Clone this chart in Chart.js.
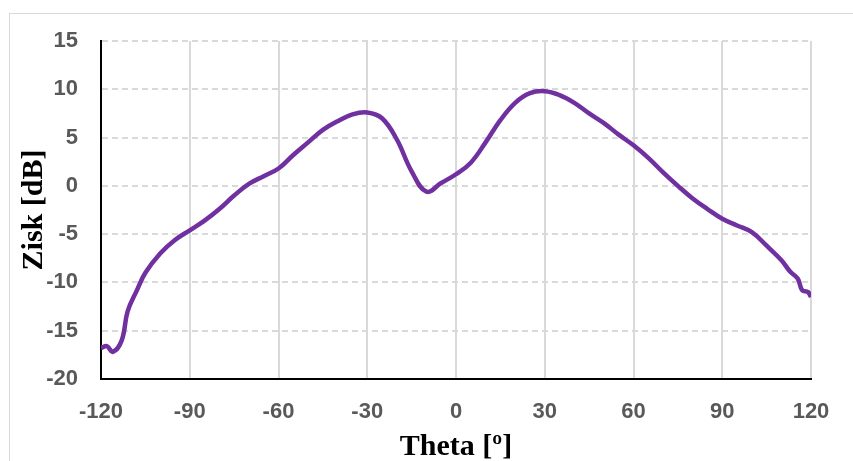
<!DOCTYPE html>
<html>
<head>
<meta charset="utf-8">
<script src="https://cdn.jsdelivr.net/npm/chart.js@4/dist/chart.umd.min.js"></script>
<style>
  html, body { margin: 0; padding: 0; background: #fff; overflow: hidden; }
  #frame { position: absolute; left: 9px; top: 13px; width: 900px; height: 500px;
           border: 1.5px solid #d9d9d9; box-sizing: border-box; }
  #wrap { position: absolute; left: 0; top: 0; width: 853px; height: 465px; }
</style>
</head>
<body>
<div id="frame"></div>
<div id="wrap"><canvas id="chart" width="853" height="465"></canvas></div>
<script>
// Winkel (Grad) und Gewinn (dB)
const theta = [-120, -118, -116, -113, -111, -108, -105, -100, -95, -90, -85, -80, -75, -70, -65, -60,
  -55, -50, -45, -40, -35, -30, -25, -20, -15, -10, -5, 0, 5, 10, 15, 20, 25, 30, 35, 40, 45,
  50, 55, 60, 65, 70, 75, 80, 85, 90, 95, 100, 105, 110, 113, 115.5, 117, 119, 120];
const gain = [-16.8, -16.6, -17.2, -16.0, -13.0, -10.9, -9.0, -7.0, -5.6, -4.6, -3.6, -2.4, -1.0, 0.2, 1.0, 1.8,
  3.2, 4.5, 5.8, 6.7, 7.4, 7.6, 7.0, 4.8, 1.5, -0.6, 0.3, 1.2, 2.4, 4.5, 6.8, 8.6, 9.6, 9.8, 9.4, 8.6, 7.5,
  6.5, 5.3, 4.2, 2.9, 1.4, 0.0, -1.3, -2.4, -3.4, -4.1, -4.8, -6.2, -7.7, -8.9, -9.6, -10.8, -11.0, -11.5];
const xTicks = [-120, -90, -60, -30, 0, 30, 60, 90, 120];
const yTicks = [-20, -15, -10, -5, 0, 5, 10, 15];

const tickFont = { family: "'Liberation Sans', Arial, sans-serif", size: 22, weight: 'bold', lineHeight: 1.2 };
const titleFont = { family: "'Liberation Serif', 'Times New Roman', serif", size: 30, weight: 'bold', lineHeight: 1.2 };

new Chart(document.getElementById('chart').getContext('2d'), {
  type: 'line',
  data: {
    datasets: [{
      data: theta.map((t, i) => ({ x: t, y: gain[i] })),
      borderColor: '#7030A0',
      borderWidth: 4.5,
      pointRadius: 0,
      tension: 0.4,
      fill: false
    }]
  },
  options: {
    responsive: false,
    animation: false,
    layout: { padding: { left: 0, right: 42, top: 41, bottom: 0 } },
    plugins: { legend: { display: false }, tooltip: { enabled: false } },
    scales: {
      x: {
        type: 'linear',
        min: -120, max: 120,
        afterBuildTicks: s => { s.ticks = xTicks.map(v => ({ value: v })); },
        afterFit: s => { s.height = 465 - 379; },
        grid: { color: '#d9d9d9', lineWidth: 2, drawTicks: false },
        border: { display: true, color: '#000', width: 2 },
        ticks: { font: tickFont, color: '#595959', padding: 20, maxRotation: 0 },
        title: { display: true, text: 'Theta [º]', font: titleFont, color: '#000', padding: { top: 0, bottom: 0 } }
      },
      y: {
        min: -20, max: 15,
        afterBuildTicks: s => { s.ticks = yTicks.map(v => ({ value: v })); },
        afterFit: s => { s.width = 101; },
        grid: { color: '#d9d9d9', lineWidth: 2, drawTicks: false },
        border: { display: true, color: '#000', width: 2, dash: [6, 4] },
        ticks: { font: tickFont, color: '#595959', padding: 23 },
        title: { display: true, text: 'Zisk [dB]', font: titleFont, color: '#000', padding: { top: 16, bottom: 0 } }
      }
    }
  }
});
</script>
</body>
</html>
